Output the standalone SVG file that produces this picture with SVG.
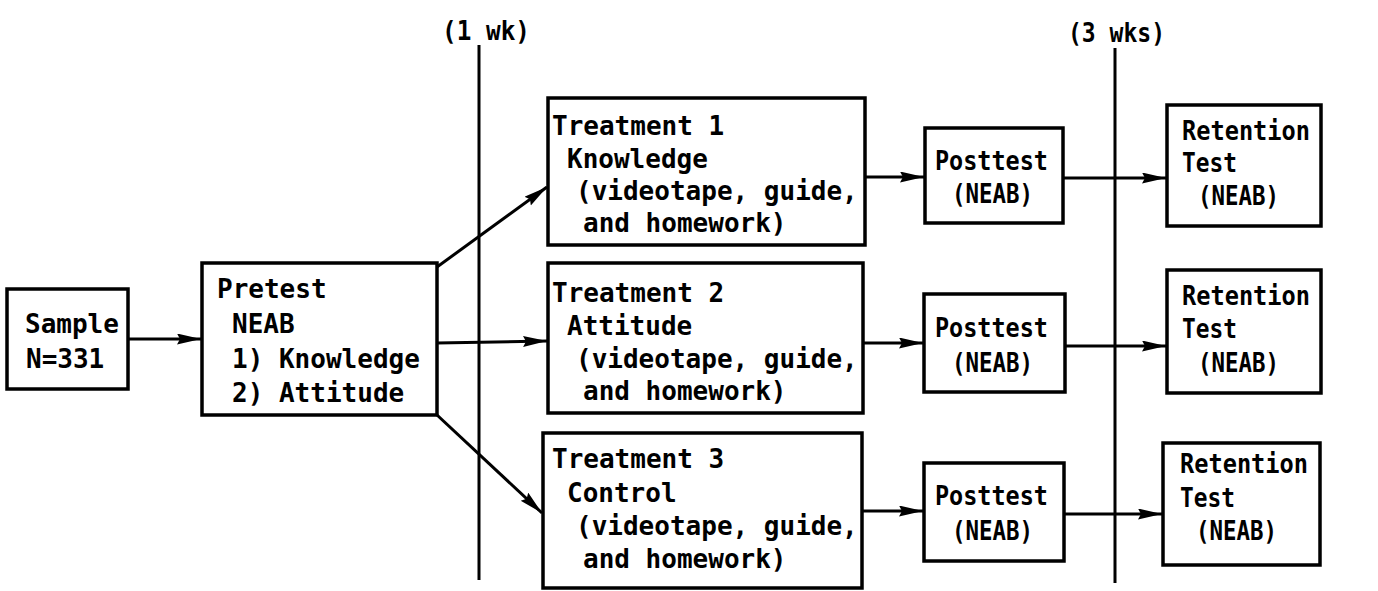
<svg xmlns="http://www.w3.org/2000/svg" width="1378" height="591" viewBox="0 0 1378 591">
<style>
.box{fill:#fff;stroke:#000;stroke-width:3.5}
.c{stroke:#000;stroke-width:3;fill:none}
.t{font-family:"DejaVu Sans Mono","Liberation Mono",monospace;font-size:26px;font-weight:bold;fill:#000}
</style>
<defs>
<marker id="ah" markerUnits="userSpaceOnUse" markerWidth="26" markerHeight="12" refX="24" refY="5.5" orient="auto">
<path d="M0,0 L24,5.5 L0,11 L3,5.5 z" fill="#000"/>
</marker>
</defs>
<rect width="1378" height="591" fill="#fff"/>

<g id="timelines">
<line class="c" x1="479" y1="45" x2="479" y2="580"/>
<text class="t" x="442" y="40" textLength="88" lengthAdjust="spacingAndGlyphs">(1 wk)</text>
<line class="c" x1="1115" y1="48" x2="1115" y2="583"/>
<text class="t" x="1068" y="42" textLength="97" lengthAdjust="spacingAndGlyphs">(3 wks)</text>
</g>

<g id="connectors">
<line class="c" x1="128" y1="339" x2="201" y2="339" marker-end="url(#ah)"/>
<line class="c" x1="437" y1="267" x2="547" y2="187" marker-end="url(#ah)"/>
<line class="c" x1="437" y1="343" x2="547" y2="341" marker-end="url(#ah)"/>
<line class="c" x1="437" y1="415" x2="542" y2="513" marker-end="url(#ah)"/>
<line class="c" x1="865" y1="177" x2="924" y2="177" marker-end="url(#ah)"/>
<line class="c" x1="863" y1="343" x2="923" y2="343" marker-end="url(#ah)"/>
<line class="c" x1="862" y1="511" x2="923" y2="511" marker-end="url(#ah)"/>
<line class="c" x1="1063" y1="178" x2="1166" y2="178" marker-end="url(#ah)"/>
<line class="c" x1="1065" y1="346" x2="1166" y2="346" marker-end="url(#ah)"/>
<line class="c" x1="1064" y1="514" x2="1162" y2="514" marker-end="url(#ah)"/>
</g>

<g id="sample">
<rect class="box" x="7" y="289" width="121" height="100"/>
<text class="t" x="25" y="333">Sample</text>
<text class="t" x="26" y="368">N=331</text>
</g>

<g id="pretest">
<rect class="box" x="202" y="263" width="235" height="152"/>
<text class="t" x="217" y="298">Pretest</text>
<text class="t" x="232" y="333">NEAB</text>
<text class="t" x="232" y="368">1) Knowledge</text>
<text class="t" x="232" y="402">2) Attitude</text>
</g>

<g id="treatment1">
<rect class="box" x="548" y="98" width="317" height="147"/>
<text class="t" x="552" y="135">Treatment 1</text>
<text class="t" x="567" y="168">Knowledge</text>
<text class="t" x="576" y="200">(videotape, guide,</text>
<text class="t" x="583" y="232">and homework)</text>
</g>

<g id="treatment2">
<rect class="box" x="548" y="263" width="315" height="150"/>
<text class="t" x="552" y="302">Treatment 2</text>
<text class="t" x="567" y="335">Attitude</text>
<text class="t" x="576" y="368">(videotape, guide,</text>
<text class="t" x="583" y="400">and homework)</text>
</g>

<g id="treatment3">
<rect class="box" x="543" y="433" width="319" height="155"/>
<text class="t" x="552" y="468">Treatment 3</text>
<text class="t" x="567" y="502">Control</text>
<text class="t" x="576" y="535">(videotape, guide,</text>
<text class="t" x="583" y="568">and homework)</text>
</g>

<g id="posttest1">
<rect class="box" x="925" y="128" width="138" height="95"/>
<text class="t" x="935" y="170" textLength="113" lengthAdjust="spacingAndGlyphs">Posttest</text>
<text class="t" x="952" y="203" textLength="81" lengthAdjust="spacingAndGlyphs">(NEAB)</text>
</g>

<g id="posttest2">
<rect class="box" x="924" y="294" width="141" height="98"/>
<text class="t" x="935" y="337" textLength="113" lengthAdjust="spacingAndGlyphs">Posttest</text>
<text class="t" x="952" y="372" textLength="81" lengthAdjust="spacingAndGlyphs">(NEAB)</text>
</g>

<g id="posttest3">
<rect class="box" x="924" y="463" width="140" height="98"/>
<text class="t" x="935" y="505" textLength="113" lengthAdjust="spacingAndGlyphs">Posttest</text>
<text class="t" x="952" y="540" textLength="81" lengthAdjust="spacingAndGlyphs">(NEAB)</text>
</g>

<g id="retention1">
<rect class="box" x="1167" y="105" width="154" height="121"/>
<text class="t" x="1182" y="140" textLength="128" lengthAdjust="spacingAndGlyphs">Retention</text>
<text class="t" x="1182" y="172" textLength="55" lengthAdjust="spacingAndGlyphs">Test</text>
<text class="t" x="1198" y="205" textLength="81" lengthAdjust="spacingAndGlyphs">(NEAB)</text>
</g>

<g id="retention2">
<rect class="box" x="1167" y="270" width="154" height="123"/>
<text class="t" x="1182" y="305" textLength="128" lengthAdjust="spacingAndGlyphs">Retention</text>
<text class="t" x="1182" y="338" textLength="55" lengthAdjust="spacingAndGlyphs">Test</text>
<text class="t" x="1198" y="372" textLength="81" lengthAdjust="spacingAndGlyphs">(NEAB)</text>
</g>

<g id="retention3">
<rect class="box" x="1163" y="443" width="157" height="122"/>
<text class="t" x="1180" y="473" textLength="128" lengthAdjust="spacingAndGlyphs">Retention</text>
<text class="t" x="1180" y="507" textLength="55" lengthAdjust="spacingAndGlyphs">Test</text>
<text class="t" x="1196" y="540" textLength="81" lengthAdjust="spacingAndGlyphs">(NEAB)</text>
</g>
</svg>
